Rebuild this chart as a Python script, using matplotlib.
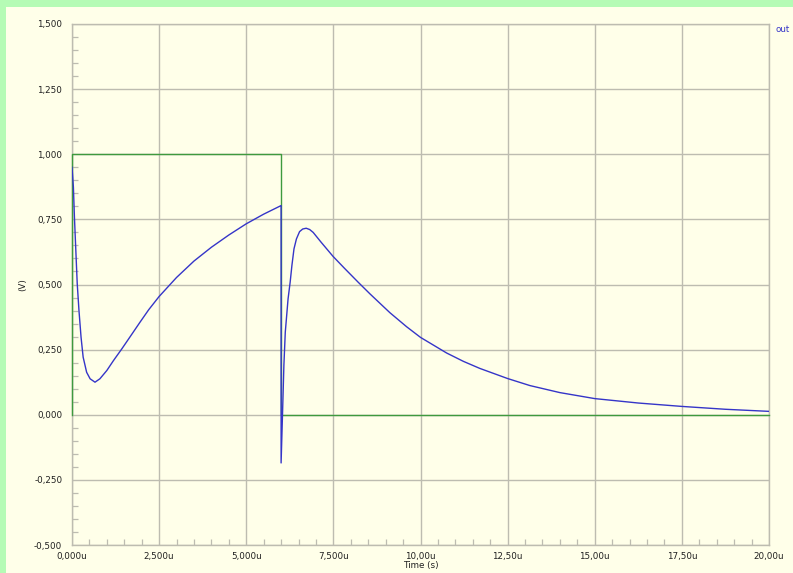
import matplotlib
matplotlib.use("Agg")
import matplotlib.pyplot as plt
from matplotlib.ticker import MultipleLocator, FixedLocator
from matplotlib.patches import Rectangle

# ---- data (time in microseconds, volts) ----
in_t = [0.0, 0.0, 6.0, 6.0, 20.0]
in_v = [0.0, 1.0, 1.0, 0.0, 0.0]

out_t = [0.0, 0.04, 0.07, 0.11, 0.15, 0.20, 0.26, 0.32, 0.42, 0.52, 0.66, 0.80,
         1.00, 1.19, 1.43, 1.66, 1.95, 2.20, 2.50, 3.00, 3.50, 4.00, 4.50,
         5.00, 5.50, 6.00,
         6.00, 6.04, 6.08, 6.12, 6.20, 6.26, 6.31, 6.37, 6.44, 6.53, 6.62, 6.72, 6.82,
         6.92, 7.15, 7.49, 7.82, 8.21, 8.55, 9.12, 9.60, 10.0, 10.75, 11.23, 11.7, 12.5,
         13.14, 14.0, 15.0, 16.25, 17.5, 18.75, 20.0]
out_v = [0.95, 0.874, 0.758, 0.63, 0.503, 0.40, 0.297, 0.221, 0.163, 0.138, 0.125, 0.138,
         0.17, 0.208, 0.253, 0.298, 0.355, 0.403, 0.454, 0.527, 0.59, 0.643, 0.69,
         0.733, 0.77, 0.803,
         -0.185, 0.0, 0.19, 0.317, 0.445, 0.509, 0.573, 0.637, 0.675, 0.703, 0.713, 0.716, 0.711,
         0.70, 0.662, 0.608, 0.562, 0.509, 0.464, 0.392, 0.338, 0.297, 0.237, 0.205, 0.178, 0.139,
         0.112, 0.085, 0.062, 0.045, 0.032, 0.021, 0.013]

x_ticks = [0.0, 2.5, 5.0, 7.5, 10.0, 12.5, 15.0, 17.5, 20.0]
x_labels = ["0,000u", "2,500u", "5,000u", "7,500u", "10,00u", "12,50u", "15,00u", "17,50u", "20,00u"]
y_ticks = [-0.5, -0.25, 0.0, 0.25, 0.5, 0.75, 1.0, 1.25, 1.5]
y_labels = ["-0,500", "-0,250", "0,000", "0,250", "0,500", "0,750", "1,000", "1,250", "1,500"]

BG = "#FFFFE9"
GRID = "#BDBCB0"
BLUE = "#3535C8"
GREEN = "#3E9A3E"

W, H = 793, 573
fig = plt.figure(figsize=(W / 100, H / 100), dpi=100, facecolor=BG)
# green screenshot border (top and left)
fig.patches.append(Rectangle((0, 1 - 7 / H), 1, 7 / H, transform=fig.transFigure,
                             facecolor="#B5FBB5", edgecolor="none", zorder=0))
fig.patches.append(Rectangle((0, 0), 6 / W, 1, transform=fig.transFigure,
                             facecolor="#B5FBB5", edgecolor="none", zorder=0))

left, right, top, bottom = 72, 769, 24, 545
ax = fig.add_axes([left / W, 1 - bottom / H, (right - left) / W, (bottom - top) / H])
ax.set_facecolor(BG)
ax.set_xlim(0, 20)
ax.set_ylim(-0.5, 1.5)

ax.xaxis.set_major_locator(FixedLocator(x_ticks))
ax.yaxis.set_major_locator(FixedLocator(y_ticks))
ax.xaxis.set_minor_locator(MultipleLocator(0.5))
ax.yaxis.set_minor_locator(MultipleLocator(0.05))

font = dict(family=["Liberation Sans Narrow", "DejaVu Sans"], size=6.3, color="#202020")
ax.set_xticklabels(x_labels, **font)
ax.set_yticklabels(y_labels, **font)
ax.tick_params(which="major", length=0, pad=5)
ax.tick_params(axis="y", which="major", pad=7)
ax.tick_params(which="minor", direction="in", length=4, color=GRID, width=0.9)

ax.grid(True, which="major", color=GRID, linewidth=1.0)
for s in ax.spines.values():
    s.set_color(GRID)
    s.set_linewidth(1.0)

ax.plot(in_t, in_v, color=GREEN, linewidth=1.0, zorder=3, clip_on=False)
ax.plot(out_t, out_v, color=BLUE, linewidth=1.0, zorder=4, solid_joinstyle="round")

ax.set_xlabel("Time (s)", labelpad=0, **font)
ax.set_ylabel("(V)", labelpad=5, **font)

fig.text(776 / W, 1 - 30 / H, "out", color=BLUE, ha="left", va="center",
         family=["Liberation Sans Narrow", "DejaVu Sans"], size=6.3)

fig.savefig("out.png", dpi=100, facecolor=BG)
